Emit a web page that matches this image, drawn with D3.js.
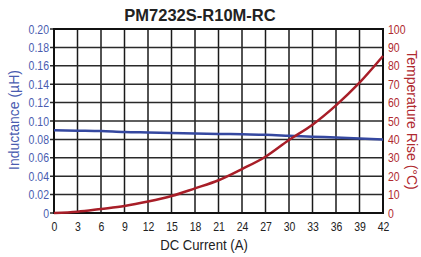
<!DOCTYPE html>
<html>
<head>
<meta charset="utf-8">
<script src="https://cdn.jsdelivr.net/npm/d3@7"></script>
<style>
  body { margin: 0; background: #fff; }
  svg { display: block; }
  text { font-family: "Liberation Sans", Arial, sans-serif; }
</style>
</head>
<body>
<svg width="421" height="257"></svg>
<script>
// current (A) on the x axis
const current = [0, 3, 6, 9, 12, 15, 18, 21, 24, 27, 30, 33, 36, 39, 42];
// inductance (uH)
const inductance = [0.090, 0.0895, 0.089, 0.088, 0.0875, 0.087, 0.0865, 0.086, 0.0855, 0.085, 0.084, 0.083, 0.082, 0.081, 0.080];
// temperature rise (C)
const tempRise = [0, 0.7, 2.2, 3.8, 6.2, 9.2, 13.4, 17.8, 23.9, 30.6, 39.7, 48, 58.5, 70.8, 85.3];

const xTicks = current;
const leftTicks = [0, 0.02, 0.04, 0.06, 0.08, 0.10, 0.12, 0.14, 0.16, 0.18, 0.20];
const rightTicks = [0, 10, 20, 30, 40, 50, 60, 70, 80, 90, 100];

const BLUE = '#3548a0', RED = '#a81e28';
const BLUE_TXT = '#4a5cb0', RED_TXT = '#b02a30';

const plotL = 54, plotR = 383, plotT = 29, plotB = 213;
const squeeze = 'scale(0.84,1)'; // the tick font in the picture is a condensed one

const svg = d3.select('svg');

const x = d3.scaleLinear().domain([0, 42]).range([plotL, plotR]);
const yL = d3.scaleLinear().domain([0, 0.2]).range([plotB, plotT]);
const yR = d3.scaleLinear().domain([0, 100]).range([plotB, plotT]);

// grid
svg.append('g')
  .selectAll('line')
  .data(xTicks)
  .enter()
  .append('line')
  .attr('x1', d => x(d)).attr('x2', d => x(d))
  .attr('y1', plotT).attr('y2', plotB)
  .attr('stroke', '#1a1a1a').attr('stroke-width', 1.5);

svg.append('g')
  .selectAll('line')
  .data(leftTicks)
  .enter()
  .append('line')
  .attr('x1', plotL - 4).attr('x2', plotR)
  .attr('y1', d => yL(d)).attr('y2', d => yL(d))
  .attr('stroke', '#2a2a2a').attr('stroke-width', 1.5);

svg.append('rect')
  .attr('x', plotL).attr('y', plotT)
  .attr('width', plotR - plotL).attr('height', plotB - plotT)
  .attr('fill', 'none').attr('stroke', '#111').attr('stroke-width', 2);

// tick labels
const leftAxis = d3.axisLeft(yL).tickValues(leftTicks)
  .tickFormat(d => d === 0 ? '0' : d3.format('.2f')(d)).tickSize(0).tickPadding(5);
svg.append('g').attr('transform', `translate(${plotL},0)`).call(leftAxis)
  .call(g => g.select('.domain').remove())
  .selectAll('text').attr('transform', squeeze)
  .attr('font-size', 12.5).attr('font-family', null).attr('fill', BLUE_TXT);

const rightAxis = d3.axisRight(yR).tickValues(rightTicks).tickSize(0).tickPadding(5);
svg.append('g').attr('transform', `translate(${plotR},0)`).call(rightAxis)
  .call(g => g.select('.domain').remove())
  .selectAll('text').attr('transform', squeeze)
  .attr('font-size', 12.5).attr('fill', RED_TXT);

const bottomAxis = d3.axisBottom(x).tickValues(xTicks).tickSize(0).tickPadding(9);
svg.append('g').attr('transform', `translate(0,${plotB})`).call(bottomAxis)
  .call(g => g.select('.domain').remove())
  .selectAll('text').attr('transform', squeeze)
  .attr('font-size', 12.5).attr('fill', '#222');

// x positions got squeezed with the text, so put them back
svg.selectAll('.tick text').each(function() {
  const t = d3.select(this);
  const xx = +t.attr('x') || 0;
  t.attr('x', xx / 0.84);
});
svg.selectAll('g').attr('font-family', null);

// curves
const blueLine = d3.line().x((d, i) => x(current[i])).y(d => yL(d)).curve(d3.curveMonotoneX);
const redLine = d3.line().x((d, i) => x(current[i])).y(d => yR(d)).curve(d3.curveMonotoneX);

svg.append('path').datum(inductance).attr('d', blueLine)
  .attr('fill', 'none').attr('stroke', BLUE).attr('stroke-width', 2.5);
svg.append('path').datum(tempRise).attr('d', redLine)
  .attr('fill', 'none').attr('stroke', RED).attr('stroke-width', 2.5);

// titles
svg.append('text').attr('x', 200).attr('y', 21).attr('text-anchor', 'middle')
  .attr('font-weight', 'bold').attr('font-size', 16.5).attr('fill', '#222')
  .text('PM7232S-R10M-RC');

svg.append('text').attr('x', 204).attr('y', 250).attr('text-anchor', 'middle')
  .attr('font-size', 14).attr('fill', '#222').attr('transform', 'translate(204,0) scale(0.94,1) translate(-204,0)')
  .text('DC Current (A)');

svg.append('text')
  .attr('transform', 'translate(19,120) rotate(-90)').attr('text-anchor', 'middle')
  .attr('font-size', 14).attr('fill', BLUE_TXT).text('Inductance (µH)');

svg.append('text')
  .attr('transform', 'translate(407,120) rotate(90)').attr('text-anchor', 'middle')
  .attr('font-size', 14).attr('fill', RED_TXT).text('Temperature Rise (°C)');
</script>
</body>
</html>
